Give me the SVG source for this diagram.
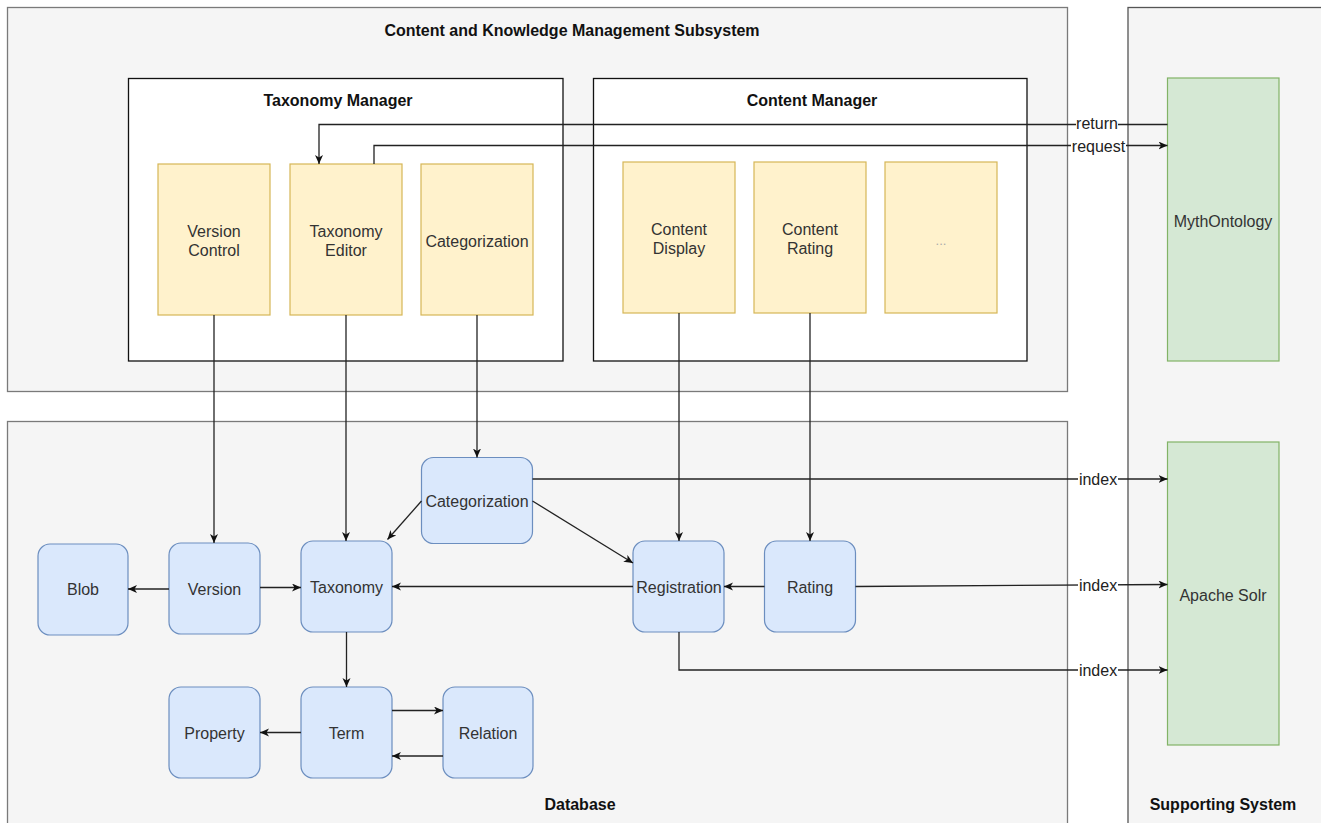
<svg xmlns="http://www.w3.org/2000/svg" width="1321" height="823" viewBox="0 0 1321 823">
<style>
.cont{fill:#f5f5f5;stroke:#7a7a7a;stroke-width:1.3}
.mgr{fill:#ffffff;stroke:#111;stroke-width:1.3}
.y{fill:#fff2cc;stroke:#d6b656;stroke-width:1.2}
.b{fill:#dae8fc;stroke:#6c8ebf;stroke-width:1.2}
.g{fill:#d5e8d4;stroke:#82b366;stroke-width:1.2}
text{font-family:"Liberation Sans",Arial,sans-serif;font-size:16px;text-anchor:middle;dominant-baseline:central}
.t{fill:#333}
.h{fill:#111;font-weight:bold}
.lbl{fill:#222}
.c{fill:none;stroke:#222;stroke-width:1.3}
.a{marker-end:url(#arr)}
.bg{fill:#ffffff}
</style>
<defs>
<marker id="arr" markerUnits="userSpaceOnUse" markerWidth="12" markerHeight="10" refX="9" refY="4" orient="auto">
<path d="M0,0 L9,4 L0,8 L2.5,4 Z" fill="#111"/>
</marker>
</defs>

<g id="containers">
<g id="ckms"><rect class="cont" x="7.5" y="7.5" width="1060" height="384"/><text class="h" x="572" y="30">Content and Knowledge Management Subsystem</text></g>
<g id="database"><rect class="cont" x="7.5" y="421.5" width="1060" height="420"/><text class="h" x="580" y="804">Database</text></g>
<g id="supporting"><rect class="cont" x="1128" y="7.5" width="220" height="834" style="stroke:#555"/><text class="h" x="1223" y="804">Supporting System</text></g>
<g id="taxmgr"><rect class="mgr" x="128.5" y="78.5" width="434.5" height="282.5"/><text class="h" x="338" y="100">Taxonomy Manager</text></g>
<g id="contmgr"><rect class="mgr" x="593.5" y="78.5" width="433.5" height="282.5"/><text class="h" x="812" y="100">Content Manager</text></g>
</g>

<g id="vc"><rect class="y" x="158" y="164" width="112" height="151"/><text class="t" x="214" y="231">Version</text><text class="t" x="214" y="250">Control</text></g>
<g id="te"><rect class="y" x="290" y="164" width="112" height="151"/><text class="t" x="346" y="231">Taxonomy</text><text class="t" x="346" y="250">Editor</text></g>
<g id="catm"><rect class="y" x="421" y="164" width="112" height="151"/><text class="t" x="477" y="241">Categorization</text></g>
<g id="cd"><rect class="y" x="623" y="162" width="112" height="151"/><text class="t" x="679" y="229">Content</text><text class="t" x="679" y="248">Display</text></g>
<g id="cr"><rect class="y" x="754" y="162" width="112" height="151"/><text class="t" x="810" y="229">Content</text><text class="t" x="810" y="248">Rating</text></g>
<g id="more"><rect class="y" x="885" y="162" width="112" height="151"/><text x="941" y="240" style="fill:#aaa;font-size:13px">...</text></g>

<g id="myth"><rect class="g" x="1167.5" y="78" width="111.5" height="283"/><text class="t" x="1223" y="221">MythOntology</text></g>
<g id="solr"><rect class="g" x="1167.5" y="442" width="111.5" height="303"/><text class="t" x="1223" y="595">Apache Solr</text></g>

<g id="catdb"><rect class="b" x="421.5" y="457.5" width="111" height="86" rx="12"/><text class="t" x="477" y="501">Categorization</text></g>
<g id="blob"><rect class="b" x="38" y="544" width="90" height="91" rx="12"/><text class="t" x="83" y="589">Blob</text></g>
<g id="version"><rect class="b" x="169" y="543" width="91" height="91" rx="12"/><text class="t" x="214.5" y="589">Version</text></g>
<g id="taxonomy"><rect class="b" x="301" y="541" width="91" height="91" rx="12"/><text class="t" x="346.5" y="587">Taxonomy</text></g>
<g id="registration"><rect class="b" x="633" y="541" width="91" height="91" rx="12"/><text class="t" x="679" y="587">Registration</text></g>
<g id="rating"><rect class="b" x="764.5" y="541" width="91" height="91" rx="12"/><text class="t" x="810" y="587">Rating</text></g>
<g id="property"><rect class="b" x="169" y="687" width="91" height="91" rx="12"/><text class="t" x="214.5" y="733">Property</text></g>
<g id="term"><rect class="b" x="301" y="687" width="91" height="91" rx="12"/><text class="t" x="346.5" y="733">Term</text></g>
<g id="relation"><rect class="b" x="443" y="687" width="90" height="91" rx="12"/><text class="t" x="488" y="733">Relation</text></g>

<g id="connectors">
<path class="c a" d="M1167.5,124.5 H319 V164"/>
<path class="c a" d="M374,164 V145.5 H1167.5"/>
<path class="c a" d="M214,315 V543"/>
<path class="c a" d="M346,315 V541"/>
<path class="c a" d="M477,315 V457.5"/>
<path class="c a" d="M679,313 V541"/>
<path class="c a" d="M810,313 V541"/>
<path class="c a" d="M421.5,501 L387.5,539.5"/>
<path class="c a" d="M532.5,501 L633,563"/>
<path class="c a" d="M532.5,479 H1167.5"/>
<path class="c a" d="M633,586.5 H392"/>
<path class="c a" d="M169,589 H128"/>
<path class="c a" d="M260,587.5 H301"/>
<path class="c a" d="M764.5,586.5 H724"/>
<path class="c a" d="M855.5,586.5 L1167.5,584.5"/>
<path class="c a" d="M679,632 V670 H1167.5"/>
<path class="c a" d="M346.5,632 V687"/>
<path class="c a" d="M301,732.5 H260"/>
<path class="c a" d="M392,710.5 H443"/>
<path class="c a" d="M443,756 H392"/>
<g id="labels">
<rect class="bg" x="1076" y="115" width="42" height="17"/><text class="lbl" x="1097" y="123.5">return</text>
<rect class="bg" x="1071" y="138" width="55" height="17"/><text class="lbl" x="1098.5" y="146.5">request</text>
<rect class="bg" x="1078" y="471" width="40" height="17"/><text class="lbl" x="1098" y="479">index</text>
<rect class="bg" x="1078" y="577" width="40" height="17"/><text class="lbl" x="1098" y="585">index</text>
<rect class="bg" x="1078" y="662" width="40" height="17"/><text class="lbl" x="1098" y="670">index</text>
</g>
</g>
</svg>
